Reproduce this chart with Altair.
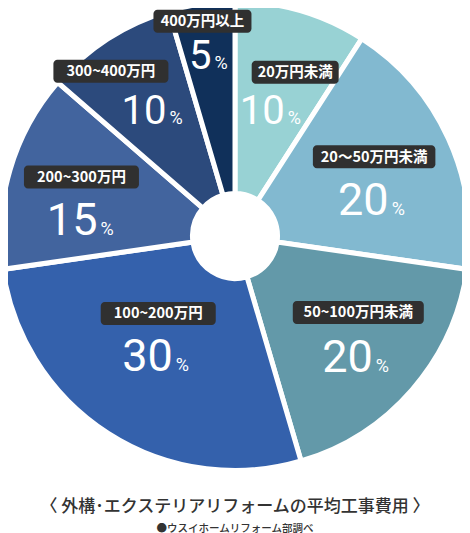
import altair as alt
import pandas as pd

# ---- data ----
categories = ["20万円未満", "20～50万円未満", "50~100万円未満", "100~200万円",
              "200~300万円", "300~400万円", "400万円以上"]
shares = [10, 20, 20, 30, 15, 10, 5]
colors = ["#98d2d4", "#82b9d0", "#6399a9", "#3461ac", "#42649e", "#2c4a7c", "#10305a"]

title_text = "〈 外構･エクステリアリフォームの平均工事費用 〉"
source_text = "●ウスイホームリフォーム部調べ"

# ---- label layout (placement of annotation groups around slice mid-angles) ----
label_radius = [132, 144, 172, 142, 153, 150, 183]
label_turn = [0, 9.6, 3.3, 0, -10, 0, 0]
tag_dx = [23, 0, 0, 0, -1.5, -43, -6.5]
tag_dy = [-37, -42, -43.5, -42, -42, -38.5, -33.5]

CX, CY = 227, 228
R_OUT, R_IN = 234.5, 42.5


def tag_width(s):
    return 11 + sum(11 if ord(c) < 128 else 13.5 for c in s)


df = pd.DataFrame({
    "cat": categories,
    "share": shares,
    "idx": list(range(len(categories))),
    "lr": label_radius,
    "turn": label_turn,
    "tdx": tag_dx,
    "tdy": tag_dy,
    "tw": [tag_width(c) for c in categories],
})

base = alt.Chart(df).transform_joinaggregate(
    total="sum(share)"
).transform_window(
    cum="sum(share)", sort=[alt.SortField("idx")], frame=[None, 0]
).transform_calculate(
    mid="(datum.cum - datum.share / 2) / datum.total * 2 * PI + datum.turn * PI / 180",
).transform_calculate(
    gx=f"{CX} + datum.lr * sin(datum.mid)",
    gy=f"{CY} - datum.lr * cos(datum.mid)",
    fs="datum.share > 10 ? 45 : 40",
    pcttxt="'' + datum.share",
).transform_calculate(
    nx="datum.gx + 2 + (datum.share < 10 ? 0.5 : (datum.share > 10 ? 12.5 : 10.5))",
    ny="datum.gy + datum.fs * 0.355",
    bx1="datum.gx + datum.tdx - datum.tw / 2",
    bx2="datum.gx + datum.tdx + datum.tw / 2",
    by1="datum.gy + datum.tdy - 11.5",
    by2="datum.gy + datum.tdy + 11.5",
    tx="datum.gx + datum.tdx",
    ty="datum.gy + datum.tdy + 5",
).transform_calculate(
    px="datum.nx + 3",
)

arcs = alt.Chart(df).mark_arc(
    radius=R_OUT, radius2=R_IN, stroke="white", strokeWidth=5
).encode(
    theta=alt.Theta("share:Q", stack=True),
    color=alt.Color("cat:N", scale=alt.Scale(domain=categories, range=colors), legend=None),
    order=alt.Order("idx:Q"),
)

boxes = base.mark_rect(color="#303030", cornerRadius=4).encode(
    x=alt.X("bx1:Q", scale=None, axis=None),
    x2="bx2:Q",
    y=alt.Y("by1:Q", scale=None, axis=None),
    y2="by2:Q",
)

tags = base.mark_text(
    font="Noto Sans CJK JP", fontSize=14.5, fontWeight="bold", color="white",
    align="center", baseline="alphabetic",
).encode(
    x=alt.X("tx:Q", scale=None, axis=None),
    y=alt.Y("ty:Q", scale=None, axis=None),
    text="cat:N",
)

nums = base.mark_text(
    font="Roboto", fontWeight="normal", color="white",
    align="right", baseline="alphabetic",
).encode(
    x=alt.X("nx:Q", scale=None, axis=None),
    y=alt.Y("ny:Q", scale=None, axis=None),
    size=alt.Size("fs:Q", scale=None, legend=None),
    text="pcttxt:N",
)

pcts = base.mark_text(
    font="Roboto", fontSize=18, fontWeight="normal", color="white",
    align="left", baseline="alphabetic",
).encode(
    x=alt.X("px:Q", scale=None, axis=None),
    y=alt.Y("ny:Q", scale=None, axis=None),
    text=alt.value("%"),
)

chart = alt.layer(arcs, boxes, tags, nums, pcts).properties(
    width=454,
    height=456,
    padding={"left": 0, "top": 0, "right": 0, "bottom": 69},
    autosize=alt.AutoSizeParams(type="none"),
    title=alt.Title(
        text=title_text,
        subtitle=source_text,
        orient="bottom",
        anchor="middle",
        frame="group",
        offset=18,
        font="Noto Sans CJK JP",
        fontSize=17,
        fontWeight=500,
        color="#333333",
        subtitleFont="Noto Sans CJK JP",
        subtitleFontSize=10.5,
        subtitleFontWeight=500,
        subtitleColor="#333333",
        subtitlePadding=8,
    ),
).configure_view(stroke=None)

chart.save("out.html", embed_options={"renderer": "svg", "actions": False})
